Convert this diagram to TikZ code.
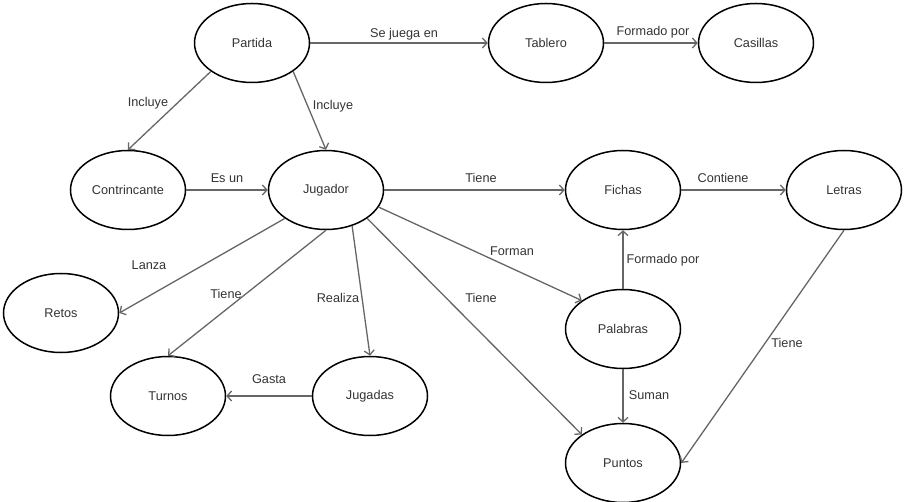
\documentclass[tikz,border=0pt]{standalone}
\usepackage{fontspec}
\setmainfont{Liberation Sans}
\usetikzlibrary{shapes.geometric,arrows.meta}

\begin{document}
\begin{tikzpicture}[x=1pt, y=-1pt, font=\fontsize{12.7}{15}\selectfont,
  >={Straight Barb[length=4.5pt,width=10pt]},
  ent/.style={ellipse, draw=black, line width=1.5pt, minimum width=115pt,
              minimum height=79pt, inner sep=0pt, text=black!80},
  rel/.style={->, draw=black!60, line width=1.3pt},
  lbl/.style={text=black!80, inner sep=1pt}]
\useasboundingbox (0,0) rectangle (907,502);
% entities
\node[ent] (partida) at (252,43) {Partida};
\node[ent] (tablero) at (546,43) {Tablero};
\node[ent] (casillas) at (756,43) {Casillas};
\node[ent] (contrincante) at (128,190) {Contrincante};
\node[ent] (jugador) at (326,190) {Jugador};
\node[ent] (fichas) at (623,190) {Fichas};
\node[ent] (letras) at (844,190) {Letras};
\node[ent] (retos) at (61,313) {Retos};
\node[ent] (palabras) at (623,329) {Palabras};
\node[ent] (turnos) at (168,396) {Turnos};
\node[ent] (jugadas) at (370,396) {Jugadas};
\node[ent] (puntos) at (623,463) {Puntos};
% relations
\draw[rel] (partida) -- (tablero);
\draw[rel] (tablero) -- (casillas);
\draw[rel] (partida.south west) -- (contrincante.north);
\draw[rel] (partida.south east) -- (jugador.north);
\draw[rel] (contrincante) -- (jugador);
\draw[rel] (jugador) -- (fichas);
\draw[rel] (fichas) -- (letras);
\draw[rel] (jugador.south west) -- (retos.east);
\draw[rel] (jugador.south) -- (turnos.north);
\draw[rel] (jugador.-54) -- (jugadas.north);
\draw[rel] (jugador.-18) -- (palabras.north west);
\draw[rel] (jugador.south east) -- (puntos.north west);
\draw[rel] (palabras) -- (fichas);
\draw[rel] (palabras) -- (puntos);
\draw[rel] (letras.south) -- (puntos.east);
\draw[rel] (jugadas) -- (turnos);
% labels
\node[lbl] (l-juega) at (404,34) {Se juega en};
\node[lbl] (l-formado) at (653,32) {Formado por};
\node[lbl] (l-incluye1) at (148,103) {Incluye};
\node[lbl] (l-incluye2) at (333,106) {Incluye};
\node[lbl] (l-esun) at (227,178) {Es un};
\node[lbl] (l-tiene1) at (481,178) {Tiene};
\node[lbl] (l-contiene) at (723,178) {Contiene};
\node[lbl] (l-lanza) at (149,265) {Lanza};
\node[lbl] (l-tiene2) at (226,294) {Tiene};
\node[lbl] (l-realiza) at (338,298) {Realiza};
\node[lbl] (l-forman) at (512,251) {Forman};
\node[lbl] (l-tiene3) at (481,298) {Tiene};
\node[lbl] (l-formado2) at (663,260) {Formado por};
\node[lbl] (l-suman) at (649,395) {Suman};
\node[lbl] (l-tiene4) at (787,343) {Tiene};
\node[lbl] (l-gasta) at (269,379) {Gasta};
\end{tikzpicture}
\end{document}
